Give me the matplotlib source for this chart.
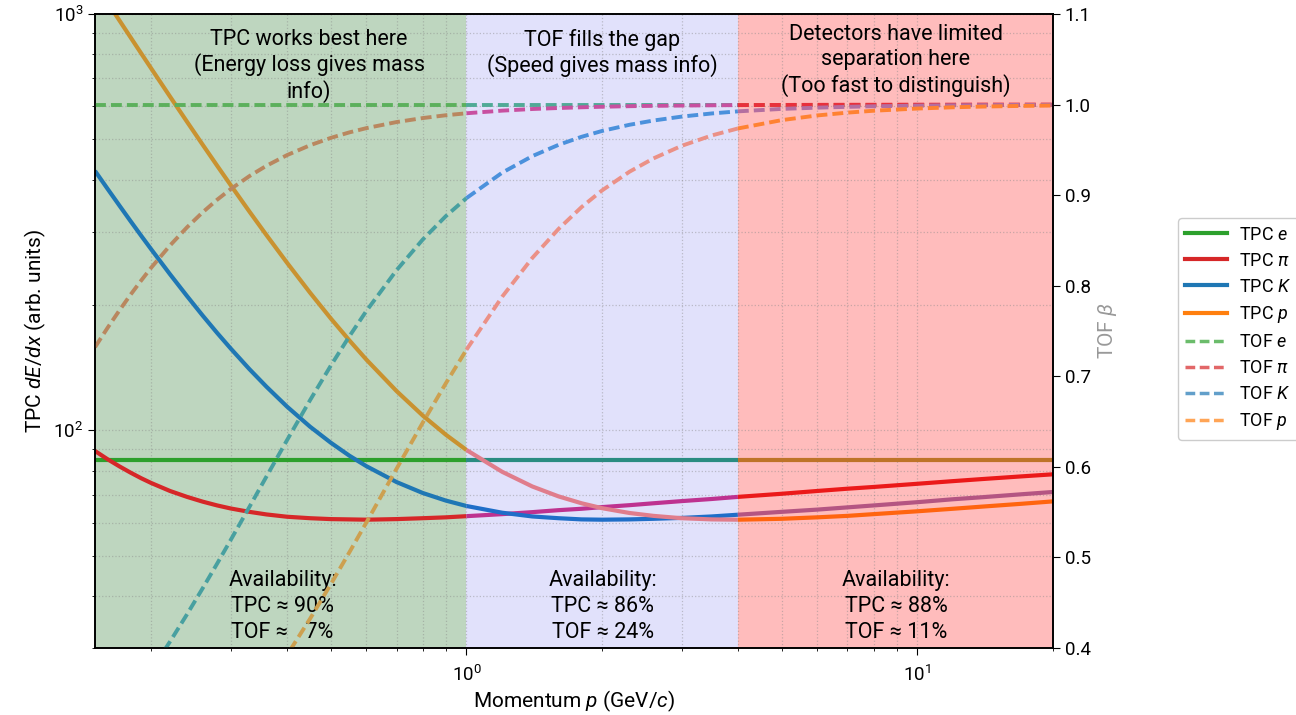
import numpy as np
import matplotlib
matplotlib.use('Agg')
import matplotlib.pyplot as plt
from matplotlib.lines import Line2D
import matplotlib.ticker as mticker

# ---------------- data ----------------
momentum = np.array([0.15, 0.16, 0.17, 0.18, 0.19, 0.2, 0.22, 0.24, 0.26, 0.28, 0.3, 0.33, 0.36, 0.4, 0.45,
                     0.5, 0.55, 0.6, 0.7, 0.8, 0.9, 1.0, 1.2, 1.4, 1.6, 1.8, 2.0, 2.3, 2.6, 3.0, 3.5, 4.0,
                     5.0, 6.0, 7.0, 8.0, 10, 12, 14, 17, 20])

tpc_e = np.full(momentum.size, 85.0)
tpc_pi = np.array([89.2, 85.2, 81.9, 79.1, 76.7, 74.7, 71.5, 69.2, 67.4, 66.0, 64.9, 63.7, 62.8, 62.0, 61.5,
                   61.2, 61.1, 61.0, 61.2, 61.5, 61.8, 62.2, 62.9, 63.6, 64.3, 64.8, 65.4, 66.1, 66.8, 67.6,
                   68.4, 69.2, 70.4, 71.5, 72.4, 73.1, 74.4, 75.5, 76.4, 77.5, 78.4])
tpc_K = np.array([419.9, 380.0, 346.4, 317.7, 293.1, 271.9, 237.1, 210.1, 188.6, 171.3, 157.2, 140.3, 127.3,
                  114.0, 102.0, 93.4, 86.9, 82.0, 75.1, 70.7, 67.8, 65.8, 63.4, 62.1, 61.5, 61.1, 61.0, 61.1,
                  61.3, 61.6, 62.1, 62.7, 63.7, 64.5, 65.3, 66.0, 67.2, 68.3, 69.1, 70.2, 71.1])
tpc_p = np.array([1185.4, 1065.5, 964.3, 877.9, 803.6, 739.2, 633.5, 551.0, 485.2, 431.9, 388.0, 335.4, 294.5,
                  252.6, 214.0, 185.7, 164.4, 147.8, 124.2, 108.5, 97.6, 89.7, 79.5, 73.3, 69.4, 66.8, 65.0,
                  63.3, 62.3, 61.5, 61.1, 61.0, 61.3, 61.8, 62.3, 62.9, 63.9, 64.8, 65.6, 66.6, 67.5])

tof_e = np.full(momentum.size, 1.0)
tof_pi = np.array([0.7321, 0.7536, 0.7729, 0.7903, 0.8059, 0.8201, 0.8444, 0.8645, 0.8811, 0.8950, 0.9067,
                   0.9210, 0.9324, 0.9442, 0.9551, 0.9632, 0.9693, 0.9740, 0.9807, 0.9851, 0.9882, 0.9904,
                   0.9933, 0.9951, 0.9962, 0.9970, 0.9976, 0.9982, 0.9986, 0.9989, 0.9992, 0.9994, 0.9996,
                   0.9997, 0.9998, 0.9998, 0.9999, 0.9999, 1.0000, 1.0000, 1.0000])
tof_K = np.array([0.2907, 0.3083, 0.3256, 0.3426, 0.3592, 0.3755, 0.4070, 0.4372, 0.4660, 0.4933, 0.5193,
                  0.5557, 0.5892, 0.6295, 0.6737, 0.7116, 0.7442, 0.7722, 0.8172, 0.8510, 0.8768, 0.8967,
                  0.9248, 0.9431, 0.9555, 0.9644, 0.9709, 0.9777, 0.9824, 0.9867, 0.9902, 0.9925, 0.9952,
                  0.9966, 0.9975, 0.9981, 0.9988, 0.9992, 0.9994, 0.9996, 0.9997])
tof_p = np.array([0.1579, 0.1681, 0.1783, 0.1884, 0.1985, 0.2085, 0.2283, 0.2478, 0.2670, 0.2860, 0.3045,
                  0.3318, 0.3582, 0.3922, 0.4324, 0.4703, 0.5057, 0.5387, 0.5980, 0.6488, 0.6922, 0.7293,
                  0.7878, 0.8307, 0.8626, 0.8868, 0.9053, 0.9259, 0.9406, 0.9544, 0.9659, 0.9736, 0.9828,
                  0.9880, 0.9911, 0.9932, 0.9956, 0.9970, 0.9978, 0.9985, 0.9989])

particles = ['e', 'pi', 'K', 'p']
particle_tex = [r'e', r'\pi', r'K', r'p']
region_edges = [(0.15, 1.0), (1.0, 4.0), (4.0, 20.0)]
region_titles = ['TPC works best here\n(Energy loss gives mass\ninfo)',
                 'TOF fills the gap\n(Speed gives mass info)',
                 'Detectors have limited\nseparation here\n(Too fast to distinguish)']
tpc_avail = ['90', '86', '88']
tof_avail = ['\u20077', '24', '11']

# ---------------- style ----------------
plt.rcParams['font.family'] = ['Roboto', 'DejaVu Sans']
plt.rcParams['mathtext.fontset'] = 'custom'
plt.rcParams['mathtext.rm'] = 'Roboto'
plt.rcParams['mathtext.it'] = 'Roboto:italic'

W, H = 1296, 715
fig = plt.figure(figsize=(W/100, H/100), dpi=100)

def rect(x0, y0, x1, y1):
    return [x0/W, 1-y1/H, (x1-x0)/W, (y1-y0)/H]

ax = fig.add_axes(rect(95, 14, 1053, 648))
ax.set_xscale('log'); ax.set_yscale('log')
ax.set_xlim(0.15, 20); ax.set_ylim(30, 1000)
ax2 = ax.twinx()
ax2.set_ylim(0.4, 1.1)

span_colors = ['#bed6bf', '#e1e1fb', '#ffbcbc']
for (a, b), c in zip(region_edges, span_colors):
    ax.axvspan(a, b, color=c, zorder=0.1, lw=0)

tpc_vals = {'e': tpc_e, 'pi': tpc_pi, 'K': tpc_K, 'p': tpc_p}
tof_vals = {'e': tof_e, 'pi': tof_pi, 'K': tof_K, 'p': tof_p}
tpc_cols = {'e': ['#2ca02c', '#2a8c82', '#be7328'], 'pi': ['#d62728', '#be3290', '#eb1919'],
            'K': ['#1f77b4', '#1f6ec8', '#b45582'], 'p': ['#c99230', '#e07d8c', '#ff640f']}
tof_cols = {'e': ['#5cb05c', '#50aa96', '#c07a4a'], 'pi': ['#b9875f', '#c850a0', '#e8303c'],
            'K': ['#48a0a0', '#4b91dc', '#b46ea0'], 'p': ['#cda050', '#eb9187', '#ff8232']}
dash = (0, (2.8, 1.3))
for k in particles:
    for i, (a, b) in enumerate(region_edges):
        sel = (momentum >= a) & (momentum <= b)
        ax.plot(momentum[sel], tpc_vals[k][sel], color=tpc_cols[k][i], lw=3, solid_capstyle='butt', zorder=2)
for k in particles:
    for i, (a, b) in enumerate(region_edges):
        sel = (momentum >= a) & (momentum <= b)
        ax2.plot(momentum[sel], tof_vals[k][sel], color=tof_cols[k][i], lw=2.8, ls=dash, zorder=2)

ax.grid(True, which='both', ls=':', color='#888888', alpha=0.45, lw=0.9)
ax.set_axisbelow(True)
ax.yaxis.set_minor_formatter(mticker.NullFormatter())
ax.xaxis.set_minor_formatter(mticker.NullFormatter())
ax2.set_yticks(np.arange(0.4, 1.101, 0.1))
ax2.yaxis.set_major_formatter(mticker.FormatStrFormatter('%.1f'))
for a_ in (ax, ax2):
    a_.tick_params(labelsize=13.5, which='major', length=5)
    a_.tick_params(which='minor', length=2.5)
    for s in a_.spines.values():
        s.set_linewidth(1.2)
ax.tick_params(axis='x', which='major', pad=7)
ax.set_xlabel(r'Momentum $p$ (GeV/$c$)', fontsize=15, labelpad=3)
ax.set_ylabel(r'TPC $dE/dx$ (arb. units)', fontsize=15)
ax2.set_ylabel(r'TOF $\beta$', fontsize=15, color='#999999')

tkw = dict(transform=ax.transAxes, fontsize=15.5, ha='center', va='top', zorder=5)
title_pos = [(0.2234, 0.9770), (0.5292, 0.9770), (0.8361, 0.9835)]
for (x, y), t in zip(title_pos, region_titles):
    ax.text(x, y, t, linespacing=1.22, **tkw)
avail_x = [(282.5-95)/958, (602.5-95)/958, (896-95)/958]
for x, a, b in zip(avail_x, tpc_avail, tof_avail):
    ax.text(x, 0.1235, f'Availability:\nTPC \u2248 {a}%\nTOF \u2248 {b}%', linespacing=1.33, **tkw)

labels = [rf'TPC ${t}$' for t in particle_tex] + [rf'TOF ${t}$' for t in particle_tex]
base = ['#2ca02c', '#d62728', '#1f77b4', '#ff7f0e']
handles = [Line2D([], [], color=c, lw=3) for c in base] + \
          [Line2D([], [], color=c, lw=2.5, ls=dash, alpha=0.7) for c in base]
fig.legend(handles, labels, loc='center left', bbox_to_anchor=(1178/W, 1-329/H), fontsize=13,
           handlelength=2.3, handletextpad=0.7, labelspacing=0.45, borderaxespad=0, framealpha=1)

fig.savefig('out.png', dpi=100)
